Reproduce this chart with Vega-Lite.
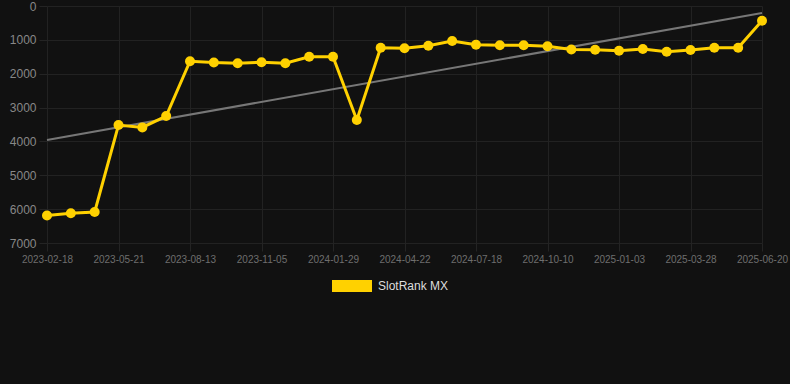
{
  "$schema": "https://vega.github.io/schema/vega-lite/v6.json",
  "autosize": "none",
  "width": 738,
  "height": 237,
  "padding": {"left": 47, "top": 6, "right": 5, "bottom": 141},
  "background": "#111111",
  "config": {
    "view": {"stroke": null},
    "font": "Liberation Sans"
  },
  "datasets": {
    "rank": [
      {"date": "2023-02-18", "rank": 6190, "series": "SlotRank MX"},
      {"date": "2023-03-21", "rank": 6120, "series": "SlotRank MX"},
      {"date": "2023-04-20", "rank": 6085, "series": "SlotRank MX"},
      {"date": "2023-05-21", "rank": 3515, "series": "SlotRank MX"},
      {"date": "2023-06-18", "rank": 3585, "series": "SlotRank MX"},
      {"date": "2023-07-16", "rank": 3250, "series": "SlotRank MX"},
      {"date": "2023-08-13", "rank": 1630, "series": "SlotRank MX"},
      {"date": "2023-09-10", "rank": 1670, "series": "SlotRank MX"},
      {"date": "2023-10-08", "rank": 1690, "series": "SlotRank MX"},
      {"date": "2023-11-05", "rank": 1663, "series": "SlotRank MX"},
      {"date": "2023-12-03", "rank": 1690, "series": "SlotRank MX"},
      {"date": "2023-12-31", "rank": 1497, "series": "SlotRank MX"},
      {"date": "2024-01-29", "rank": 1497, "series": "SlotRank MX"},
      {"date": "2024-02-26", "rank": 3367, "series": "SlotRank MX"},
      {"date": "2024-03-25", "rank": 1232, "series": "SlotRank MX"},
      {"date": "2024-04-22", "rank": 1249, "series": "SlotRank MX"},
      {"date": "2024-05-21", "rank": 1172, "series": "SlotRank MX"},
      {"date": "2024-06-19", "rank": 1034, "series": "SlotRank MX"},
      {"date": "2024-07-18", "rank": 1143, "series": "SlotRank MX"},
      {"date": "2024-08-15", "rank": 1161, "series": "SlotRank MX"},
      {"date": "2024-09-12", "rank": 1161, "series": "SlotRank MX"},
      {"date": "2024-10-10", "rank": 1190, "series": "SlotRank MX"},
      {"date": "2024-11-07", "rank": 1285, "series": "SlotRank MX"},
      {"date": "2024-12-06", "rank": 1290, "series": "SlotRank MX"},
      {"date": "2025-01-03", "rank": 1320, "series": "SlotRank MX"},
      {"date": "2025-01-31", "rank": 1270, "series": "SlotRank MX"},
      {"date": "2025-02-28", "rank": 1350, "series": "SlotRank MX"},
      {"date": "2025-03-28", "rank": 1300, "series": "SlotRank MX"},
      {"date": "2025-04-25", "rank": 1232, "series": "SlotRank MX"},
      {"date": "2025-05-23", "rank": 1232, "series": "SlotRank MX"},
      {"date": "2025-06-20", "rank": 434, "series": "SlotRank MX"}
    ],
    "trend": [
      {"date": "2023-02-18", "rank": 3957},
      {"date": "2025-06-20", "rank": 207}
    ]
  },
  "encoding": {
    "x": {
      "field": "date",
      "type": "ordinal",
      "scale": {"type": "point", "range": [0, 715], "padding": 0},
      "axis": {
        "title": null,
        "values": ["2023-02-18", "2023-05-21", "2023-08-13", "2023-11-05", "2024-01-29", "2024-04-22", "2024-07-18", "2024-10-10", "2025-01-03", "2025-03-28", "2025-06-20"],
        "labelAngle": 0,
        "labelColor": "#6e6e6e",
        "labelFontSize": 10,
        "labelPadding": 3,
        "tickSize": 8,
        "tickColor": "#242424",
        "domain": false,
        "grid": true,
        "gridColor": "#222222",
        "gridWidth": 1
      }
    },
    "y": {
      "field": "rank",
      "type": "quantitative",
      "scale": {"domain": [0, 7000], "reverse": true, "nice": false},
      "axis": {
        "title": null,
        "format": "d",
        "values": [0, 1000, 2000, 3000, 4000, 5000, 6000, 7000],
        "labelColor": "#888888",
        "labelFontSize": 12,
        "labelPadding": 3,
        "tickSize": 8,
        "tickColor": "#242424",
        "domain": false,
        "grid": true,
        "gridColor": "#222222",
        "gridWidth": 1
      }
    }
  },
  "layer": [
    {
      "data": {"name": "trend"},
      "mark": {"type": "line", "color": "#777777", "strokeWidth": 2},
      "encoding": {}
    },
    {
      "data": {"name": "rank"},
      "mark": {"type": "line", "strokeWidth": 3, "point": {"filled": true, "size": 100, "opacity": 1}},
      "encoding": {
        "color": {
          "field": "series",
          "type": "nominal",
          "scale": {"range": ["#FFD100"]},
          "legend": {
            "title": null,
            "orient": "none",
            "legendX": 285,
            "legendY": 260,
            "padding": 0,
            "symbolType": "M-1,-0.3H1V0.3H-1Z",
            "symbolSize": 1600,
            "symbolFillColor": "#FFD100",
            "symbolStrokeColor": "#FFD100",
            "symbolStrokeWidth": 0,
            "labelColor": "#dddddd",
            "labelFontSize": 12,
            "labelOffset": 6
          }
        }
      }
    }
  ]
}
